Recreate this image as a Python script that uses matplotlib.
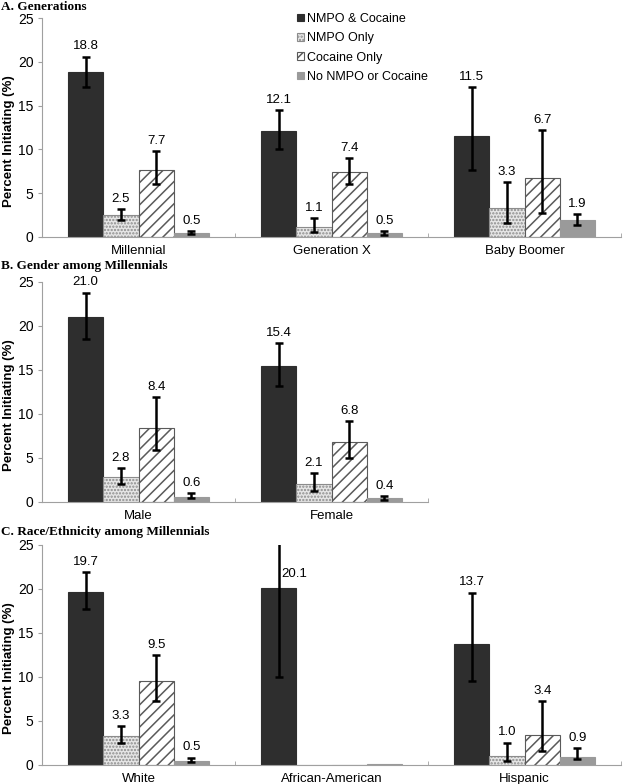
import matplotlib
matplotlib.use("Agg")
import matplotlib.pyplot as plt
from matplotlib.patches import Patch
import numpy as np

plt.rcParams['font.family'] = ['Liberation Sans', 'DejaVu Sans']
plt.rcParams['hatch.linewidth'] = 1.1

series = ["NMPO & Cocaine", "NMPO Only", "Cocaine Only", "No NMPO or Cocaine"]

# panel A - generations
gen_cats = ["Millennial", "Generation X", "Baby Boomer"]
gen_vals = [[18.8, 12.1, 11.5],
            [2.5, 1.1, 3.3],
            [7.7, 7.4, 6.7],
            [0.5, 0.5, 1.9]]
gen_lo = [[17.1, 10.0, 7.6],
          [1.9, 0.6, 1.6],
          [6.0, 6.1, 2.7],
          [0.35, 0.27, 1.37]]
gen_hi = [[20.6, 14.5, 17.1],
          [3.2, 2.2, 6.3],
          [9.85, 9.05, 12.2],
          [0.65, 0.72, 2.6]]

# panel B - gender
sex_cats = ["Male", "Female"]
sex_vals = [[21.0, 15.4],
            [2.8, 2.1],
            [8.4, 6.8],
            [0.6, 0.4]]
sex_lo = [[18.5, 13.2],
          [2.0, 1.3],
          [5.9, 5.0],
          [0.4, 0.2]]
sex_hi = [[23.8, 18.1],
          [3.9, 3.3],
          [11.9, 9.2],
          [1.0, 0.65]]

# panel C - race/ethnicity (African-American: only the combined group has an estimate)
race_cats = ["White", "African-American", "Hispanic"]
race_vals = [[19.7, 20.1, 13.7],
             [3.3, 0.0, 1.0],
             [9.5, 0.0, 3.4],
             [0.5, 0.1, 0.9]]
race_lo = [[17.7, 10.0, 9.5],
           [2.5, None, 0.4],
           [7.25, None, 1.6],
           [0.3, None, 0.65]]
race_hi = [[21.9, 30.2, 19.6],
           [4.4, None, 2.55],
           [12.5, None, 7.25],
           [0.85, None, 1.9]]

face = ['#2e2e2e', '#e6e6e6', 'white', '#9a9a9a']
edge = ['#2e2e2e', '#8c8c8c', '#5a5a5a', '#9a9a9a']
hatch = [None, '.....', '///', None]

W, H = 625, 784
fig = plt.figure(figsize=(W / 100, H / 100), dpi=100)


def px_axes(left, right, top, bottom):
    return fig.add_axes([left / W, 1 - bottom / H, (right - left) / W, (bottom - top) / H])


def panel(ax, cats, vals, lo, hi):
    n = len(cats)
    w = 0.183
    x = np.arange(n)
    for i in range(4):
        xs = x + (i - 1.5) * w
        ax.bar(xs, vals[i], w, color=face[i], edgecolor=edge[i], hatch=hatch[i],
               linewidth=0.8, zorder=2)
        for j in range(n):
            if lo[i][j] is None:
                continue
            v = vals[i][j]
            ax.errorbar(xs[j], v, yerr=[[v - lo[i][j]], [hi[i][j] - v]], fmt='none',
                        ecolor='black', elinewidth=1.8, capsize=2.6, capthick=1.8, zorder=3)
            if hi[i][j] > 25:
                # bar whose interval runs off the top: label sits beside the line
                ax.annotate(f"{v:.1f}", (xs[j], v), xytext=(2, 6), textcoords='offset points',
                            ha='left', va='bottom', fontsize=9.5)
            else:
                ax.annotate(f"{v:.1f}", (xs[j], hi[i][j]), xytext=(0, 3), textcoords='offset points',
                            ha='center', va='bottom', fontsize=9.5)
    ax.set_xlim(-0.5, 2.5)
    ax.set_ylim(0, 25)
    ax.set_yticks([0, 5, 10, 15, 20, 25])
    ax.set_xticks(x)
    ax.set_xticklabels(cats, fontsize=9.5)
    ax.set_xticks(np.arange(n + 1) - 0.5, minor=True)
    ax.tick_params(axis='x', which='major', length=0, pad=5.5)
    ax.tick_params(axis='x', which='minor', length=3, color='#a0a0a0', direction='in')
    ax.tick_params(axis='y', length=3, color='#a0a0a0', labelsize=10, pad=3)
    for s in ['top', 'right']:
        ax.spines[s].set_visible(False)
    ax.spines['left'].set_color('#a0a0a0')
    ax.spines['bottom'].set_color('#a0a0a0')
    ax.spines['bottom'].set_bounds(-0.5, n - 0.5)
    ax.set_ylabel("Percent Initiating (%)", fontsize=9.5, fontweight='bold', va='center')
    ax.yaxis.set_label_coords(-33 / 579, 0.44)
    ax.patch.set_alpha(0)


axA = px_axes(42, 621, 18, 237)
panel(axA, gen_cats, gen_vals, gen_lo, gen_hi)
axB = px_axes(42, 621, 282, 502)
panel(axB, sex_cats, sex_vals, sex_lo, sex_hi)
axC = px_axes(42, 621, 545, 765)
panel(axC, race_cats, race_vals, race_lo, race_hi)

title_font = dict(family='Liberation Serif', fontweight='bold', fontsize=9.5, ha='left', va='center')
fig.text(1 / W, 1 - 7 / H, "A. Generations", **title_font)
fig.text(1 / W, 1 - 266 / H, "B. Gender among Millennials", **title_font)
fig.text(1 / W, 1 - 532 / H, "C. Race/Ethnicity among Millennials", **title_font)

handles = [Patch(facecolor=face[i], edgecolor=edge[i], hatch=hatch[i], linewidth=0.8)
           for i in range(4)]
fig.legend(handles, series, loc='upper left', bbox_to_anchor=(297 / W, 1 - 13 / H),
           frameon=False, fontsize=9, handlelength=0.55, handleheight=0.55,
           handletextpad=0.25, labelspacing=0.58, borderpad=0, borderaxespad=0)

fig.savefig("out.png", dpi=100)
